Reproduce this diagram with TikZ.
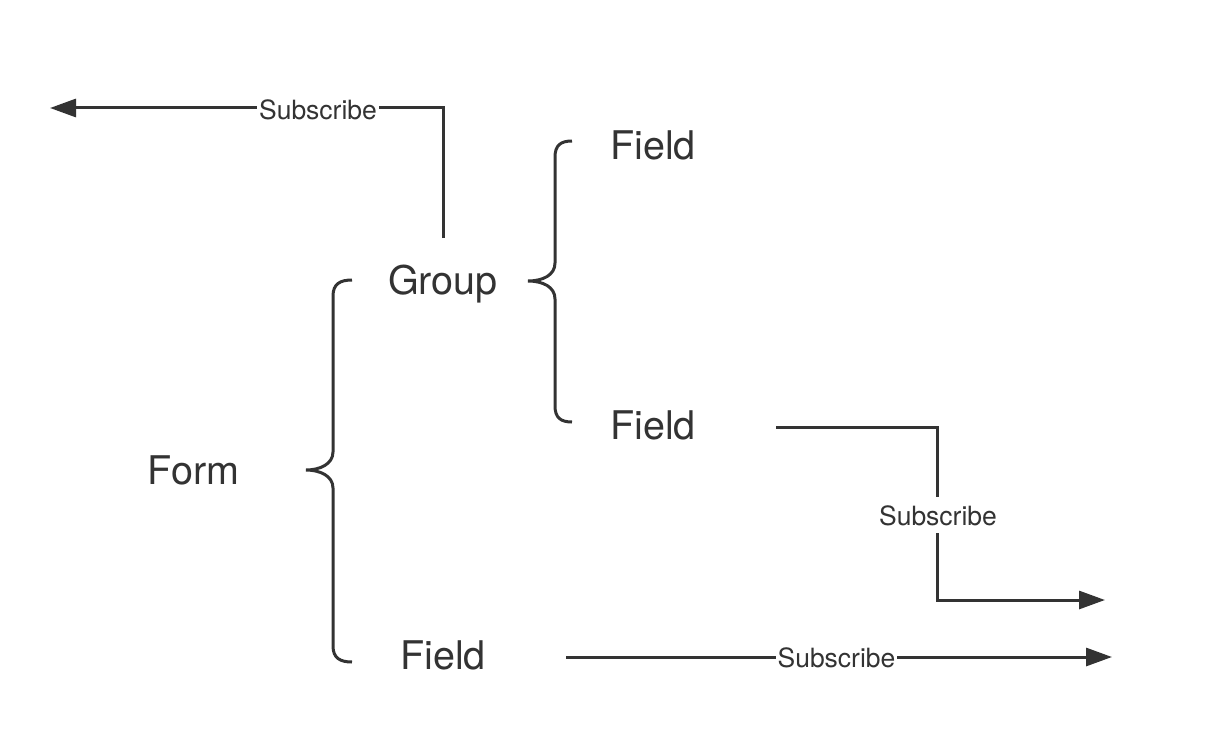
\documentclass[tikz,border=0pt]{standalone}
\usepackage{fontspec}
\setmainfont{TeX Gyre Heros}
\usetikzlibrary{arrows.meta}
\definecolor{ink}{HTML}{333333}
\tikzset{
  big/.style={font=\fontsize{39.5}{46}\selectfont, text=ink, anchor=base, inner sep=0pt},
  sublabel/.style={font=\fontsize{26.5}{30}\selectfont, text=ink, anchor=base, fill=white, inner xsep=2pt, inner ysep=8pt},
  conn/.style={draw=ink, line width=3pt, -{Triangle[length=26pt,width=18pt]}},
  bracepath/.style={draw=ink, line width=3pt}
}
\begin{document}
\begin{tikzpicture}[x=1pt,y=-1pt]
\useasboundingbox (0,0) rectangle (1214,746);
% text nodes
\node[big] (form) at (193.5,484) {Form};
\node[big] (group) at (443,294) {Group};
\node[big] (field1) at (653,160) {Field};
\node[big] (field2) at (653,439) {Field};
\node[big] (field3) at (443,669) {Field};
% braces
\path[bracepath] (352,280) .. controls (340,280) and (333,284) .. (333,296) -- (333,452)
  .. controls (333,464) and (320,470) .. (306,470)
  .. controls (320,470) and (333,476) .. (333,488) -- (333,646)
  .. controls (333,658) and (340,662) .. (352,662);
\path[bracepath] (572,141) .. controls (561,141) and (555,145) .. (555,157) -- (555,263)
  .. controls (555,275) and (543,281) .. (528,281)
  .. controls (543,281) and (555,287) .. (555,299) -- (555,406)
  .. controls (555,418) and (561,422) .. (572,422);
% connector endpoints
\coordinate (gstart) at (443,238);
\coordinate (gend) at (50,108);
\coordinate (f2start) at (776,427);
\coordinate (f2end) at (1105,600);
\coordinate (f3start) at (566,657);
\coordinate (f3end) at (1112,657);
% connectors
\draw[conn] (gstart) |- (gend);
\draw[conn] (f2start) -- (937,427) -- (937,600) -- (f2end);
\draw[conn] (f3start) -- (f3end);
% labels
\node[sublabel] (lab1) at (318,120) {Subscribe};
\node[sublabel] (lab2) at (938,525) {Subscribe};
\node[sublabel] (lab3) at (836.5,667) {Subscribe};
\end{tikzpicture}
\end{document}
